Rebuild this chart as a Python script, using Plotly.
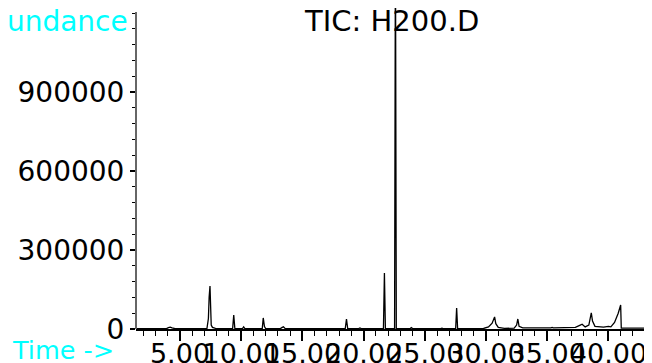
import plotly.graph_objects as go

# Retention time (min) and total ion current abundance
time_min = [1.4, 3.9, 4.05, 4.2, 4.35, 4.6, 7.2, 7.32, 7.38, 7.45, 7.55, 7.65, 7.9,
            9.3, 9.39, 9.48, 10.1, 10.2, 10.3, 11.72, 11.8, 11.9, 12.0,
            13.2, 13.35, 13.45, 13.6, 18.5, 18.6, 18.7, 19.6, 19.7, 19.8,
            20.3, 20.4, 20.5, 21.62, 21.7, 21.78, 22.53, 22.6, 22.67,
            23.8, 23.9, 24.0, 26.3, 26.4, 26.5, 27.52, 27.6, 27.68,
            29.8, 30.2, 30.5, 30.7, 30.8, 31.0, 31.5, 32.3, 32.5, 32.6, 32.7, 33.0,
            35.3, 35.4, 35.5, 36.2, 36.3, 36.4, 37.3, 37.7, 37.85, 38.1,
            38.4, 38.6, 38.7, 38.9, 39.6, 40.0, 40.2, 40.5, 40.8, 41.0, 41.05, 43.56]
abundance = [1500, 1500, 5000, 7000, 4000, 1500, 1500, 40000, 120000, 163000, 15000, 6000, 2500,
             1500, 53000, 2000, 1500, 8000, 1500, 1500, 42000, 9000, 1500,
             1500, 6000, 8000, 1500, 1500, 38000, 1500, 1500, 4000, 1500,
             1500, 4000, 1500, 1500, 213000, 1500, 1500, 1500000, 1500,
             1500, 5000, 1500, 1500, 3000, 1500, 1500, 80000, 1500,
             2000, 8000, 22000, 46000, 20000, 6000, 2500, 3000, 15000, 38000, 10000, 4000,
             4500, 6000, 4500, 4500, 6000, 4500, 6000, 15000, 18000, 8000,
             15000, 61000, 30000, 10000, 7000, 10000, 8000, 25000, 60000, 91000, 3000, 3000]

x_tick_vals = [5, 10, 15, 20, 25, 30, 35, 40]
x_tick_text = ["5.00", "10.00", "15.00", "20.00", "25.00", "30.00", "35.00", "40.00"]
y_tick_vals = [0, 300000, 600000, 900000]
y_tick_text = ["0", "300000", "600000", "900000"]

title_text = "TIC: H200.D"
y_label = "Abundance"
x_label = "Time ->"

FONT = "DejaVu Sans"
CYAN = "#00FFFF"

# the page body adds an 8px offset; layout below compensates for it
W, H = 644, 355
L, T, PW, PH = 128, 0, 516, 321

fig = go.Figure()
fig.add_trace(go.Scatter(x=time_min, y=abundance, mode="lines",
                         line=dict(color="black", width=1.3), hoverinfo="skip"))

fig.update_layout(
    width=W, height=H,
    margin=dict(l=L, r=W - L - PW, t=T, b=H - T - PH, autoexpand=False),
    paper_bgcolor="white", plot_bgcolor="white",
    showlegend=False,
    font=dict(family=FONT, color="black", size=28),
    xaxis=dict(range=[1.405, 43.56], tickvals=x_tick_vals, ticktext=x_tick_text,
               tickangle=0, automargin=False, ticklabelstandoff=-10,
               ticks="outside", ticklen=10, tickwidth=1.5, tickcolor="black",
               showline=True, linecolor="black", linewidth=2,
               showgrid=False, zeroline=False,
               tickfont=dict(family=FONT, size=27, color="black"),
               minor=dict(dtick=1, tick0=0, ticks="outside", ticklen=5,
                          tickwidth=1.2, tickcolor="black", showgrid=False)),
    yaxis=dict(range=[0, 1219000], tickvals=y_tick_vals, ticktext=y_tick_text,
               automargin=False,
               ticks="outside", ticklen=5, tickwidth=1.5, tickcolor="black",
               showline=False, showgrid=False, zeroline=False,
               tickfont=dict(family=FONT, size=28, color="black"),
               minor=dict(dtick=60000, tick0=0, ticks="outside", ticklen=3,
                          tickwidth=1.2, tickcolor="black", showgrid=False)),
)

# y axis line (starts a little below the top of the plotting area)
fig.add_shape(type="line", xref="paper", yref="y", x0=0, x1=0, y0=0, y1=1204000,
              line=dict(color="#666666", width=2))

fig.add_annotation(text=title_text, xref="paper", yref="paper",
                   x=(383 - L) / PW, y=1 - 13 / PH, xanchor="center", yanchor="middle",
                   showarrow=False, font=dict(family=FONT, size=29, color="black"))
fig.add_annotation(text=y_label, xref="paper", yref="paper",
                   x=(122 - L) / PW, y=1 - 13 / PH, xanchor="right", yanchor="middle",
                   showarrow=False, font=dict(family=FONT, size=28, color=CYAN))
fig.add_annotation(text=x_label, xref="paper", yref="paper",
                   x=(2 - L) / PW, y=-(342 - PH) / PH, xanchor="left", yanchor="middle",
                   showarrow=False, font=dict(family=FONT, size=25.5, color=CYAN))

fig.write_html("out.html")
